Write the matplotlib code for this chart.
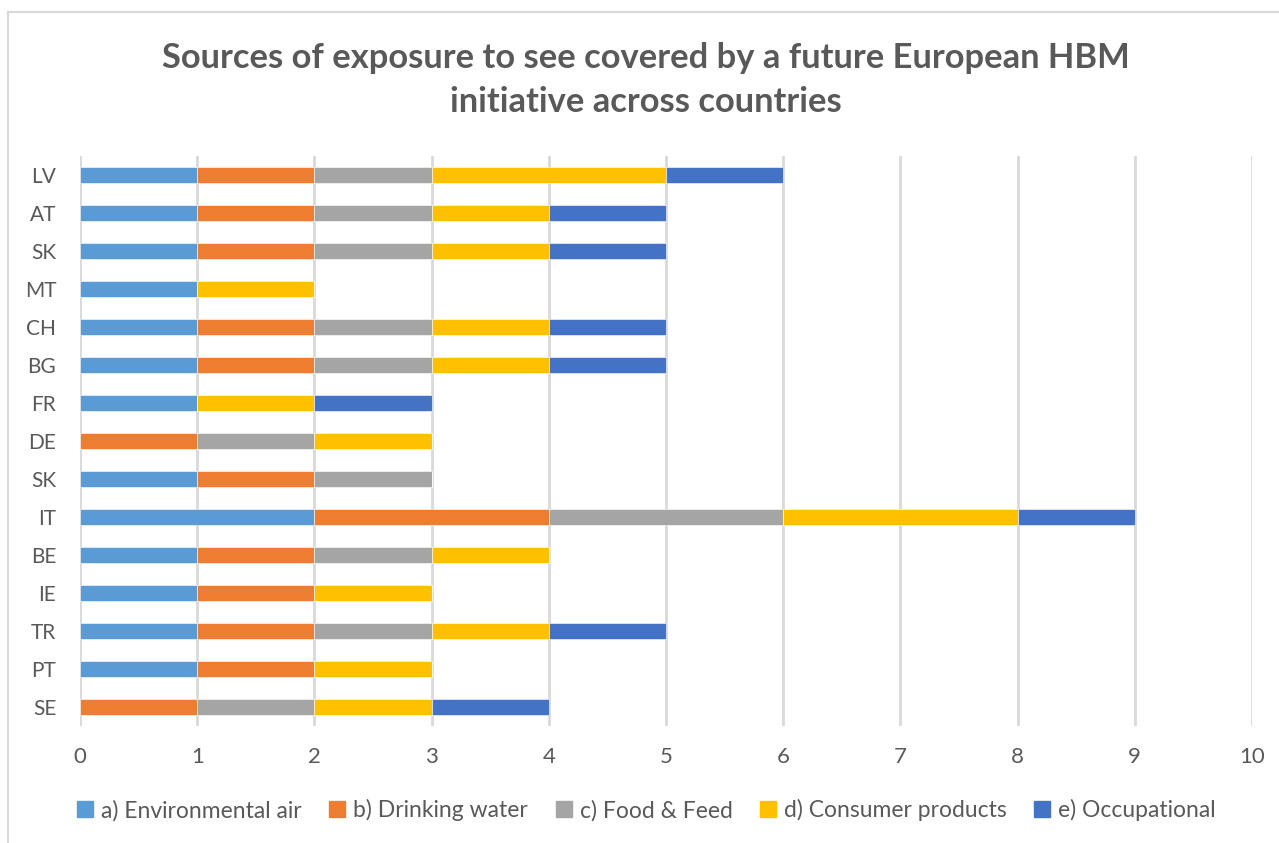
import numpy as np
import matplotlib.pyplot as plt
from matplotlib.lines import Line2D

plt.rcParams['font.family'] = ['Lato', 'DejaVu Sans']

countries = ["SE", "PT", "TR", "IE", "BE", "IT", "SK", "DE", "FR", "BG", "CH", "MT", "SK", "AT", "LV"]

env_air      = [0, 1, 1, 1, 1, 2, 1, 0, 1, 1, 1, 1, 1, 1, 1]
drink_water  = [1, 1, 1, 1, 1, 2, 1, 1, 0, 1, 1, 0, 1, 1, 1]
food_feed    = [1, 0, 1, 0, 1, 2, 1, 1, 0, 1, 1, 0, 1, 1, 1]
consumer     = [1, 1, 1, 1, 1, 2, 0, 1, 1, 1, 1, 1, 1, 1, 2]
occupational = [1, 0, 1, 0, 0, 1, 0, 0, 1, 1, 1, 0, 1, 1, 1]

series = [
    ("a) Environmental air", env_air, "#5B9BD5"),
    ("b) Drinking water", drink_water, "#ED7D31"),
    ("c) Food & Feed", food_feed, "#A5A5A5"),
    ("d) Consumer products", consumer, "#FFC000"),
    ("e) Occupational", occupational, "#4472C4"),
]

text_col = "#595959"
grid_col = "#D9D9D9"

fig = plt.figure(figsize=(12.79, 8.43), dpi=100)
ax = fig.add_axes([0.0625, 0.1388, 0.9164, 0.6761])

y = np.arange(len(countries))
left = np.zeros(len(countries))
for label, vals, col in series:
    vals = np.array(vals, dtype=float)
    ax.barh(y, vals, left=left, height=0.4, color=col, label=label,
            edgecolor="white", linewidth=0.4, zorder=3)
    left += vals

ax.set_xlim(0, 10)
ax.set_ylim(-0.5, len(countries) - 0.5)
ax.set_xticks(range(0, 11))
ax.set_yticks(y)
ax.set_yticklabels(countries)
ax.xaxis.grid(True, color=grid_col, linewidth=2, zorder=0)
for s in ax.spines.values():
    s.set_visible(False)
ax.tick_params(axis="both", length=0, labelsize=16, colors=text_col)
ax.tick_params(axis="y", labelsize=15, pad=17)
ax.tick_params(axis="x", pad=15)

# two-line title
fig.text(0.505, 1 - 58 / 843, "Sources of exposure to see covered by a future European HBM",
         ha="center", va="center", fontsize=24.8, fontweight="bold", color=text_col)
fig.text(0.505, 1 - 102 / 843, "initiative across countries",
         ha="center", va="center", fontsize=24.8, fontweight="bold", color=text_col)

handles = [Line2D([0], [0], marker="s", linestyle="none", markersize=12,
                  markerfacecolor=c, markeredgecolor=c) for _, _, c in series]
fig.legend(handles, [s[0] for s in series], loc="center", bbox_to_anchor=(0.505, 0.039),
           ncol=5, frameon=False, fontsize=16.5, labelcolor=text_col,
           handletextpad=0.3, columnspacing=1.15, handlelength=0.8)

# chart area border (top and left edges)
fig.add_artist(Line2D([8 / 1279, 1], [1 - 12 / 843, 1 - 12 / 843], color=grid_col, lw=1.5,
                      transform=fig.transFigure))
fig.add_artist(Line2D([8 / 1279, 8 / 1279], [1 - 12 / 843, 0], color=grid_col, lw=1.5,
                      transform=fig.transFigure))

fig.savefig("out.png", dpi=100)
